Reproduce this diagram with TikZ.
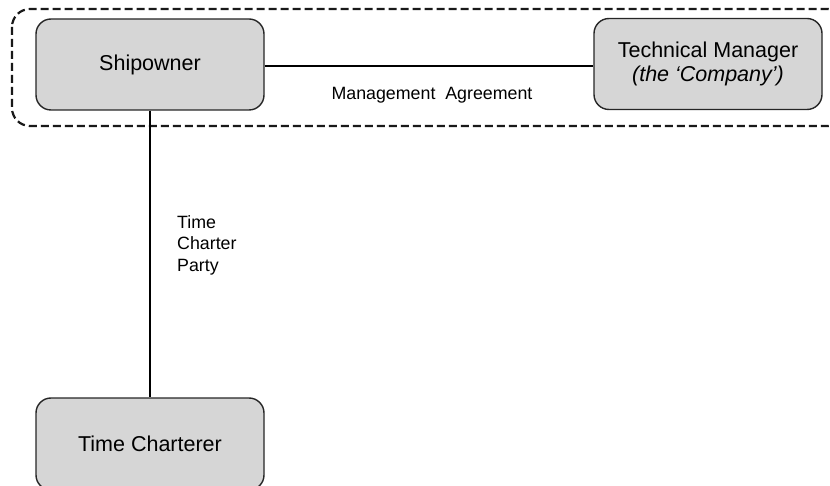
\documentclass[tikz,border=0pt]{standalone}
\usepackage{fontspec}
\setmainfont{Liberation Sans}
\begin{document}
\begin{tikzpicture}[x=1pt,y=-1pt,
  party/.style={draw=black!85, line width=1.4pt, fill=black!16, rounded corners=15pt,
    minimum width=228pt, minimum height=91pt, inner sep=0pt, align=center,
    font=\fontsize{21.5}{26}\selectfont},
  link/.style={draw=black, line width=1.4pt},
  lbl/.style={inner sep=0pt, font=\fontsize{17.8}{21.5}\selectfont},
  group/.style={draw=black!90, line width=2.2pt, dash pattern=on 8pt off 4pt, rounded corners=18pt}]
\useasboundingbox (0,0) rectangle (830,486);
\clip (0,0) rectangle (830,486);
% management group
\draw[group] (12,9) rectangle (846,126);
% parties
\node[party] (owner) at (150,64.5) {Shipowner};
\node[party] (manager) at (708,64) {Technical Manager\\[-2pt]\textit{(the ‘Company’)}};
\node[party, minimum height=92pt] (charterer) at (150,444) {Time Charterer};
% contracts
\draw[link] (owner.east |- 0,66) -- (manager.west |- 0,66);
\draw[link] (owner.south) -- (charterer.north);
\node[lbl] (mgmt) at (432,95) {Management\ \ Agreement};
\node[lbl, anchor=north west, align=left] (tcp) at (177,215) {Time\\Charter\\Party};
\end{tikzpicture}
\end{document}
